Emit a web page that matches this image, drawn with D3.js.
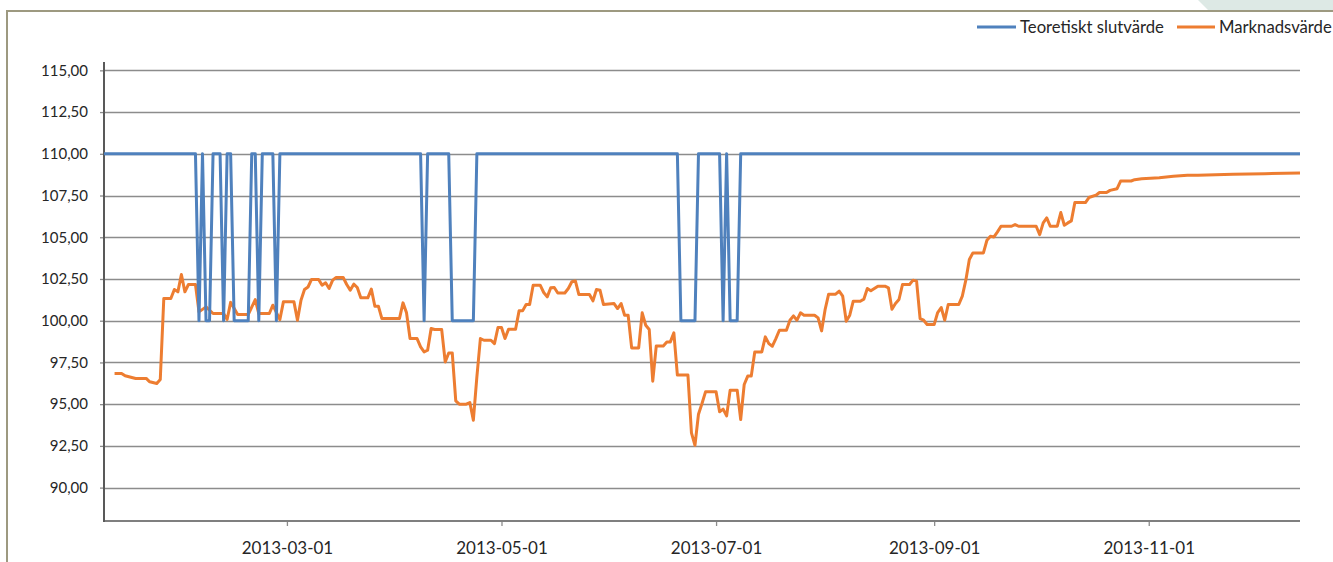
<!DOCTYPE html>
<html>
<head>
<meta charset="utf-8">
<script src="https://cdn.jsdelivr.net/npm/d3@7"></script>
<style>
  body { margin: 0; background: #fff; }
  svg { display: block; font-family: Lato, 'Open Sans', sans-serif; }
  .grid line { stroke: #8c8c8c; stroke-width: 1.3; }
  .axis text { fill: #262626; }
</style>
</head>
<body>
<div id="chart"></div>
<script>
// series names (legend order)
const seriesNames = ['Teoretiskt slutvärde', 'Marknadsvärde'];

// Teoretiskt slutvärde
const blueDates = [
  '2013-01-08', '2013-02-03', '2013-02-04', '2013-02-05', '2013-02-06', '2013-02-07', '2013-02-08',
  '2013-02-10', '2013-02-11', '2013-02-12', '2013-02-13', '2013-02-14', '2013-02-18', '2013-02-19',
  '2013-02-20', '2013-02-21', '2013-02-22', '2013-02-25', '2013-02-26', '2013-02-27',
  '2013-04-08', '2013-04-09', '2013-04-10', '2013-04-16', '2013-04-17', '2013-04-23', '2013-04-24',
  '2013-06-20', '2013-06-21', '2013-06-25', '2013-06-26', '2013-07-02', '2013-07-03', '2013-07-04',
  '2013-07-05', '2013-07-07', '2013-07-08', '2013-12-14'
];
const blueValues = [
  110, 110, 100, 110, 100, 100, 110,
  110, 100, 110, 110, 100, 100, 110,
  110, 100, 110, 110, 100, 110,
  110, 100, 110, 110, 100, 100, 110,
  110, 100, 100, 110, 110, 100, 110,
  100, 100, 110, 110
];

// Marknadsvärde
const orangeDates = [
  '2013-01-11', '2013-01-13', '2013-01-14', '2013-01-17', '2013-01-20', '2013-01-21', '2013-01-23', '2013-01-24',
  '2013-01-25', '2013-01-27', '2013-01-28', '2013-01-29', '2013-01-30', '2013-01-31', '2013-02-01', '2013-02-03',
  '2013-02-04', '2013-02-06', '2013-02-08', '2013-02-11', '2013-02-12', '2013-02-13', '2013-02-15', '2013-02-18',
  '2013-02-20', '2013-02-21', '2013-02-24', '2013-02-25', '2013-02-27', '2013-02-28', '2013-03-03', '2013-03-04',
  '2013-03-05', '2013-03-06', '2013-03-07', '2013-03-08', '2013-03-10', '2013-03-11', '2013-03-12', '2013-03-13',
  '2013-03-14', '2013-03-15', '2013-03-17', '2013-03-18', '2013-03-19', '2013-03-20', '2013-03-21', '2013-03-22',
  '2013-03-24', '2013-03-25', '2013-03-26', '2013-03-27', '2013-03-28', '2013-04-02', '2013-04-03', '2013-04-04',
  '2013-04-05', '2013-04-07', '2013-04-08', '2013-04-09', '2013-04-10', '2013-04-11', '2013-04-12', '2013-04-14',
  '2013-04-15', '2013-04-16', '2013-04-17', '2013-04-18', '2013-04-19', '2013-04-21', '2013-04-22', '2013-04-23',
  '2013-04-24', '2013-04-25', '2013-04-26', '2013-04-28', '2013-04-29', '2013-04-30', '2013-05-01', '2013-05-02',
  '2013-05-03', '2013-05-05', '2013-05-06', '2013-05-07', '2013-05-08', '2013-05-09', '2013-05-10', '2013-05-12',
  '2013-05-13', '2013-05-14', '2013-05-15', '2013-05-16', '2013-05-17', '2013-05-19', '2013-05-20', '2013-05-21',
  '2013-05-22', '2013-05-23', '2013-05-26', '2013-05-27', '2013-05-28', '2013-05-29', '2013-05-30', '2013-06-02',
  '2013-06-03', '2013-06-04', '2013-06-05', '2013-06-06', '2013-06-07', '2013-06-09', '2013-06-10', '2013-06-11',
  '2013-06-12', '2013-06-13', '2013-06-14', '2013-06-16', '2013-06-17', '2013-06-18', '2013-06-19', '2013-06-20',
  '2013-06-23', '2013-06-24', '2013-06-25', '2013-06-26', '2013-06-27', '2013-06-28', '2013-07-01', '2013-07-02',
  '2013-07-03', '2013-07-04', '2013-07-05', '2013-07-07', '2013-07-08', '2013-07-09', '2013-07-10', '2013-07-11',
  '2013-07-12', '2013-07-14', '2013-07-15', '2013-07-16', '2013-07-17', '2013-07-18', '2013-07-19', '2013-07-21',
  '2013-07-22', '2013-07-23', '2013-07-24', '2013-07-25', '2013-07-26', '2013-07-29', '2013-07-30', '2013-07-31',
  '2013-08-01', '2013-08-02', '2013-08-04', '2013-08-05', '2013-08-06', '2013-08-07', '2013-08-08', '2013-08-09',
  '2013-08-11', '2013-08-12', '2013-08-13', '2013-08-14', '2013-08-16', '2013-08-18', '2013-08-19', '2013-08-20',
  '2013-08-21', '2013-08-22', '2013-08-23', '2013-08-25', '2013-08-26', '2013-08-27', '2013-08-28', '2013-08-29',
  '2013-08-30', '2013-09-01', '2013-09-02', '2013-09-03', '2013-09-04', '2013-09-05', '2013-09-08', '2013-09-09',
  '2013-09-10', '2013-09-11', '2013-09-12', '2013-09-15', '2013-09-16', '2013-09-17', '2013-09-18', '2013-09-19',
  '2013-09-20', '2013-09-23', '2013-09-24', '2013-09-25', '2013-09-30', '2013-10-01', '2013-10-02', '2013-10-03',
  '2013-10-04', '2013-10-06', '2013-10-07', '2013-10-08', '2013-10-09', '2013-10-10', '2013-10-11', '2013-10-14',
  '2013-10-15', '2013-10-17', '2013-10-18', '2013-10-20', '2013-10-21', '2013-10-23', '2013-10-24', '2013-10-27',
  '2013-10-28', '2013-10-30', '2013-11-04', '2013-11-08', '2013-11-12', '2013-11-15', '2013-11-25', '2013-12-04',
  '2013-12-14'
];
const orangeValues = [
  96.84, 96.84, 96.70, 96.54, 96.54, 96.34, 96.24, 96.48,
  101.33, 101.33, 101.87, 101.73, 102.77, 101.73, 102.17, 102.17,
  100.53, 100.83, 100.43, 100.43, 100.07, 101.10, 100.37, 100.37,
  101.27, 100.43, 100.43, 100.93, 100.07, 101.13, 101.13, 100.03,
  101.23, 101.87, 102.02, 102.47, 102.47, 102.13, 102.27, 101.93,
  102.43, 102.59, 102.59, 102.17, 101.83, 102.19, 101.99, 101.37,
  101.37, 101.89, 100.87, 100.87, 100.13, 100.13, 101.07, 100.47,
  98.93, 98.93, 98.43, 98.13, 98.23, 99.53, 99.47, 99.47,
  97.53, 98.07, 98.07, 95.20, 95.00, 95.00, 95.10, 94.04,
  96.63, 98.93, 98.83, 98.83, 98.63, 99.59, 99.59, 98.93,
  99.49, 99.49, 100.59, 100.59, 100.97, 100.97, 102.13, 102.13,
  101.69, 101.43, 101.97, 101.99, 101.66, 101.66, 101.93, 102.33,
  102.38, 101.57, 101.57, 101.19, 101.87, 101.83, 100.97, 101.03,
  100.73, 101.03, 100.33, 100.33, 98.37, 98.37, 100.47, 99.73,
  99.47, 96.38, 98.49, 98.49, 98.73, 98.73, 99.27, 96.74,
  96.74, 93.28, 92.54, 94.40, 95.04, 95.74, 95.74, 94.54,
  94.70, 94.30, 95.84, 95.84, 94.08, 96.18, 96.68, 96.68,
  98.13, 98.13, 99.03, 98.63, 98.47, 98.93, 99.43, 99.43,
  100.03, 100.29, 100.03, 100.47, 100.33, 100.33, 100.17, 99.39,
  100.67, 101.59, 101.59, 101.77, 101.47, 99.97, 100.33, 101.17,
  101.17, 101.29, 101.93, 101.79, 102.07, 102.07, 101.97, 100.69,
  101.03, 101.27, 102.17, 102.17, 102.43, 102.37, 100.13, 100.03,
  99.77, 99.77, 100.49, 100.79, 100.03, 100.97, 100.97, 101.47,
  102.43, 103.67, 104.06, 104.06, 104.82, 105.06, 105.02, 105.32,
  105.66, 105.66, 105.76, 105.66, 105.66, 105.16, 105.86, 106.16,
  105.66, 105.66, 106.48, 105.72, 105.86, 105.98, 107.08, 107.08,
  107.38, 107.52, 107.68, 107.68, 107.81, 107.91, 108.37, 108.37,
  108.45, 108.51, 108.57, 108.65, 108.71, 108.71, 108.77, 108.81,
  108.85
];

const yTicks = [90, 92.5, 95, 97.5, 100, 102.5, 105, 107.5, 110, 112.5, 115];
const xTickDates = ['2013-03-01', '2013-05-01', '2013-07-01', '2013-09-01', '2013-11-01'];
const xDomain = ['2013-01-08', '2013-12-14'];
const yDomain = [88, 115.5];

const colors = ['#4f81bd', '#ed7d31'];

const width = 1333;
const height = 562;
const plot = { left: 104, right: 1300, top: 62, bottom: 521 };

const parse = d3.timeParse('%Y-%m-%d');
const sv = d3.formatLocale({ decimal: ',', thousands: ' ', grouping: [3], currency: ['', ' kr'] });
const fmtY = sv.format('.2f');

const svg = d3.select('#chart')
  .append('svg')
  .attr('width', width)
  .attr('height', height);

// chart frame + corner decoration
svg.append('path')
  .attr('d', 'M1198,0 H1333 V10 H1208 Z')
  .attr('fill', '#dde9e5');
svg.append('path')
  .attr('d', `M7,${height} V11 H${width}`)
  .attr('fill', 'none')
  .attr('stroke', '#9d9980')
  .attr('stroke-width', 2);

const x = d3.scaleTime()
  .domain(xDomain.map(parse))
  .range([plot.left, plot.right]);

const y = d3.scaleLinear()
  .domain(yDomain)
  .range([plot.bottom, plot.top]);

// horizontal gridlines
svg.append('g')
  .attr('class', 'grid')
  .selectAll('line')
  .data(yTicks)
  .enter()
  .append('line')
  .attr('x1', plot.left)
  .attr('x2', plot.right)
  .attr('y1', (d) => Math.round(y(d)) + 0.5)
  .attr('y2', (d) => Math.round(y(d)) + 0.5);

// y axis
const yAxis = svg.append('g')
  .attr('class', 'axis')
  .attr('transform', `translate(${plot.left},0)`)
  .call(d3.axisLeft(y).tickValues(yTicks).tickFormat(fmtY).tickSize(4).tickPadding(12));
yAxis.select('.domain').remove();
yAxis.selectAll('.tick line').attr('stroke', '#8c8c8c').attr('stroke-width', 1.3);
yAxis.selectAll('text').attr('font-size', 15).attr('font-family', 'Lato');

// x axis
const xAxis = svg.append('g')
  .attr('class', 'axis')
  .attr('transform', `translate(0,${plot.bottom})`)
  .call(d3.axisBottom(x).tickValues(xTickDates.map(parse)).tickFormat(d3.timeFormat('%Y-%m-%d')).tickSize(5).tickPadding(16));
xAxis.select('.domain').remove();
xAxis.selectAll('.tick line').attr('stroke', '#8c8c8c').attr('stroke-width', 1.3);
xAxis.selectAll('text').attr('font-size', 17).attr('font-family', 'Lato');

// axis lines
svg.append('line')
  .attr('x1', plot.left).attr('x2', plot.right)
  .attr('y1', plot.bottom).attr('y2', plot.bottom)
  .attr('stroke', '#7f7f7f').attr('stroke-width', 2);
svg.append('line')
  .attr('x1', plot.left).attr('x2', plot.left)
  .attr('y1', plot.top).attr('y2', plot.bottom + 1)
  .attr('stroke', '#595959').attr('stroke-width', 2);

const line = d3.line()
  .x((d) => x(d.date))
  .y((d) => y(d.value));

const series = [
  { name: seriesNames[1], color: colors[1], data: orangeDates.map((d, i) => ({ date: parse(d), value: orangeValues[i] })) },
  { name: seriesNames[0], color: colors[0], data: blueDates.map((d, i) => ({ date: parse(d), value: blueValues[i] })) }
];

svg.selectAll('.serie')
  .data(series)
  .enter()
  .append('path')
  .attr('class', 'serie')
  .attr('fill', 'none')
  .attr('stroke', (d) => d.color)
  .attr('stroke-width', 3)
  .attr('stroke-linejoin', 'round')
  .attr('d', (d) => line(d.data));

// legend
const legendItems = [
  { name: seriesNames[0], color: colors[0], x: 977, w: 39 },
  { name: seriesNames[1], color: colors[1], x: 1177, w: 38 }
];
const legend = svg.append('g').attr('class', 'legend');
legend.selectAll('line')
  .data(legendItems)
  .enter()
  .append('line')
  .attr('x1', (d) => d.x)
  .attr('x2', (d) => d.x + d.w)
  .attr('y1', 27)
  .attr('y2', 27)
  .attr('stroke', (d) => d.color)
  .attr('stroke-width', 3);
legend.selectAll('text')
  .data(legendItems)
  .enter()
  .append('text')
  .attr('x', (d) => d.x + d.w + 4)
  .attr('y', 33)
  .attr('font-size', 16.7)
  .attr('fill', '#262626')
  .text((d) => d.name);
</script>
</body>
</html>
